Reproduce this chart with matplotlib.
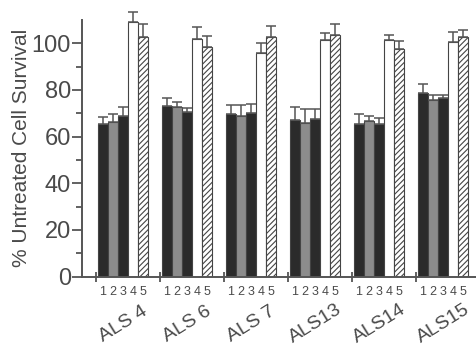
import matplotlib
matplotlib.use("Agg")
import matplotlib.pyplot as plt
import numpy as np

plt.rcParams['font.family'] = ['Liberation Sans', 'DejaVu Sans']
plt.rcParams['hatch.color'] = '#777777'
plt.rcParams['hatch.linewidth'] = 0.8

groups = ['ALS 4', 'ALS 6', 'ALS 7', 'ALS13', 'ALS14', 'ALS15']
bar_names = ['1', '2', '3', '4', '5']

# mean survival (%) for bars 1..5 in each cell line
means = [
    [65.4, 66.3, 68.9, 109.0, 102.5],
    [73.2, 72.9, 70.5, 102.0, 98.6],
    [69.7, 68.9, 70.3, 96.0, 102.9],
    [67.2, 65.7, 67.6, 101.5, 103.5],
    [65.5, 66.9, 65.5, 101.5, 97.5],
    [78.6, 75.8, 76.7, 100.6, 102.5],
]
# upper error (sd)
errs = [
    [2.8, 3.4, 3.9, 4.4, 5.9],
    [3.3, 2.1, 1.7, 5.2, 4.6],
    [3.8, 4.6, 3.6, 4.0, 4.6],
    [5.4, 6.2, 4.3, 3.1, 4.7],
    [4.2, 2.0, 2.5, 2.1, 3.7],
    [3.9, 2.1, 1.2, 4.4, 3.0],
]

face = ['#2b2b2b', '#8c8c8c', '#2b2b2b', 'white', 'white']
hatch = [None, None, None, None, '//////']
edge = '#444444'
txt = '#4a4a4a'

fig = plt.figure(figsize=(4.77, 3.51), dpi=100)
ax = fig.add_axes([82 / 477, 74.5 / 351, 395 / 477, 256.5 / 351])

width = 10 / 64
means = np.array(means)
errs = np.array(errs)
ng = len(groups)
for k in range(5):
    x = np.arange(ng) + 2 / 64 + (k + 0.5) * width
    ax.bar(x, means[:, k], width, color=face[k], edgecolor=edge,
           linewidth=0.8, hatch=hatch[k], zorder=2)
    eb = ax.errorbar(x, means[:, k], yerr=[np.zeros(ng), errs[:, k]], fmt='none',
                     ecolor='#555555', elinewidth=1.1, capsize=3.6, capthick=1.1,
                     zorder=3)
    for art in eb.get_children():
        art.set_clip_on(False)
    for i in range(ng):
        ax.text(x[i], -0.062, bar_names[k], transform=ax.get_xaxis_transform(),
                ha='center', va='center', fontsize=9, color=txt)

for i, g in enumerate(groups):
    ax.text(i + 0.43, -0.185, g, transform=ax.get_xaxis_transform(),
            ha='center', va='center', fontsize=14, rotation=32, color=txt)

ax.set_xlim(-14 / 64, 381 / 64)
ax.set_ylim(0, 110)
ax.set_xticks(np.arange(ng))
ax.set_xticklabels([])
ax.set_yticks(np.arange(0, 101, 20))
ax.set_yticks(np.arange(10, 110, 20), minor=True)
ax.tick_params(axis='y', which='major', length=7, width=1.3, color='#555555',
               labelsize=17, labelcolor=txt, pad=1)
ax.tick_params(axis='y', which='minor', length=4, width=1.3, color='#555555')
ax.tick_params(axis='x', direction='inout', length=7, width=1.3, color='#555555')

for s in ['top', 'right']:
    ax.spines[s].set_visible(False)
for s in ['left', 'bottom']:
    ax.spines[s].set_color('#555555')
    ax.spines[s].set_linewidth(1.4)

fig.text(22 / 477, 0.578, '% Untreated Cell Survival', rotation=90,
         ha='center', va='center', fontsize=15, color=txt)

fig.savefig('out.png', dpi=100)
